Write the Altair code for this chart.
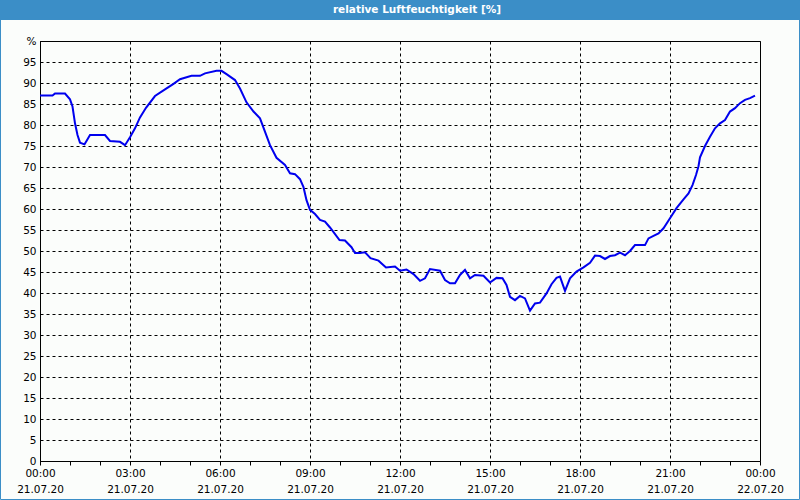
import altair as alt
import pandas as pd

TITLE = "relative Luftfeuchtigkeit [%]"

# minutes after 21.07.20 00:00
minutes = [0, 25, 30, 50, 60, 65, 70, 75, 80, 89, 93, 100, 130, 140, 160, 170, 180, 190, 200, 212,
           230, 250, 267, 280, 303, 320, 330, 353, 363, 373, 390, 400, 413, 427, 440, 460, 473, 490,
           500, 510, 520, 527, 533, 540, 550, 560, 570, 580, 599, 610, 623, 630, 640, 650, 661, 677,
           692, 710, 720, 733, 747, 760, 770, 780, 800, 810, 820, 830, 840, 850, 860, 870, 887, 900,
           913, 925, 933, 940, 950, 960, 970, 980, 990, 1000, 1013, 1023, 1033, 1040, 1050, 1060,
           1073, 1087, 1100, 1110, 1120, 1130, 1140, 1150, 1160, 1170, 1180, 1190, 1210, 1217, 1227,
           1237, 1247, 1260, 1273, 1287, 1297, 1305, 1312, 1317, 1320, 1330, 1340, 1350, 1360, 1370,
           1380, 1390, 1400, 1410, 1420, 1430]
humidity = [87.0, 87.0, 87.5, 87.5, 86.1, 84.4, 80.4, 77.6, 75.8, 75.4, 76.2, 77.6, 77.6, 76.2, 76.0,
            75.2, 77.1, 79.2, 81.8, 84.1, 86.9, 88.5, 89.8, 90.9, 91.7, 91.7, 92.3, 92.9, 92.9, 92.1,
            90.7, 88.7, 85.4, 83.2, 81.6, 75.2, 72.2, 70.5, 68.5, 68.3, 67.1, 65.2, 62.1, 59.8, 58.8,
            57.4, 57.0, 55.6, 52.6, 52.5, 50.9, 49.5, 49.5, 49.7, 48.3, 47.7, 46.1, 46.3, 45.3, 45.6,
            44.5, 42.9, 43.5, 45.7, 45.3, 43.1, 42.3, 42.3, 44.3, 45.5, 43.5, 44.3, 44.1, 42.5, 43.6,
            43.5, 41.9, 39.1, 38.3, 39.3, 38.7, 35.8, 37.5, 37.7, 39.9, 42.1, 43.6, 43.9, 40.5, 43.5,
            45.1, 46.1, 47.2, 48.9, 48.8, 48.1, 48.8, 49.0, 49.6, 49.0, 50.0, 51.4, 51.4, 53.0, 53.6,
            54.2, 55.4, 57.8, 60.2, 62.3, 63.7, 65.7, 68.1, 70.2, 72.3, 75.0, 77.2, 79.2, 80.4, 81.2,
            83.2, 84.0, 85.2, 86.0, 86.4, 87.0]

x_ticks = list(range(0, 1441, 60))
y_ticks = list(range(0, 101, 5))

df = pd.DataFrame({"t": minutes, "rh": humidity})
title_df = pd.DataFrame({"label": [TITLE]})

FONT = "DejaVu Sans"
BLUE = "#3b8ec7"
BG = "#fbfdfb"

x_axis = alt.Axis(
    values=x_ticks,
    labelExpr="datum.value % 180 == 0 ? [format(floor(datum.value/60) % 24, '02d') + ':00', datum.value >= 1440 ? '22.07.20' : '21.07.20'] : ''",
    labelOverlap=False, labelFlush=False, labelLineHeight=16, labelPadding=3,
    labelFont=FONT, labelFontSize=10.5, labelColor="#000000",
    tickSize=4, tickColor="#000000", domainColor="#000000",
    grid=True, gridColor="#000000", gridDash=[3, 3], gridWidth=1,
    gridOpacity=alt.condition("datum.value % 180 == 0", alt.value(1), alt.value(0)),
    title=None,
)
y_axis = alt.Axis(
    values=y_ticks,
    labelExpr="datum.value == 100 ? '%' : datum.label",
    labelFont=FONT, labelFontSize=10.5, labelColor="#000000", labelPadding=4,
    ticks=False, domainColor="#000000",
    grid=True, gridColor="#000000", gridDash=[3, 3], gridWidth=1,
    title=None,
)

line = alt.Chart(df).mark_line(color="#0000ee", strokeWidth=2).encode(
    x=alt.X("t:Q", scale=alt.Scale(domain=[0, 1440], nice=False), axis=x_axis),
    y=alt.Y("rh:Q", scale=alt.Scale(domain=[0, 100], nice=False), axis=y_axis),
)

band = alt.Chart(title_df).mark_rect(color=BLUE).encode(
    x=alt.value(-40), x2=alt.value(760), y=alt.value(-41), y2=alt.value(-21)
)
title_text = alt.Chart(title_df).mark_text(
    color="white", font=FONT, fontSize=10.5, fontWeight="bold", align="center", baseline="middle"
).encode(x=alt.value(377), y=alt.value(-31), text="label:N")
border = alt.Chart(title_df).mark_rect(filled=False, stroke=BLUE, strokeWidth=1).encode(
    x=alt.value(-39.5), x2=alt.value(759.5), y=alt.value(-40.5), y2=alt.value(458.5)
)

chart = alt.layer(line, band, title_text, border).properties(
    width=720, height=420,
    autosize=alt.AutoSizeParams(type="none"),
    padding={"left": 40, "right": 40, "top": 41, "bottom": 39},
    background=BG,
).configure_view(stroke="#000000", strokeWidth=1, fill=BG)

chart.save("out.html", embed_options={"renderer": "svg", "actions": False})
